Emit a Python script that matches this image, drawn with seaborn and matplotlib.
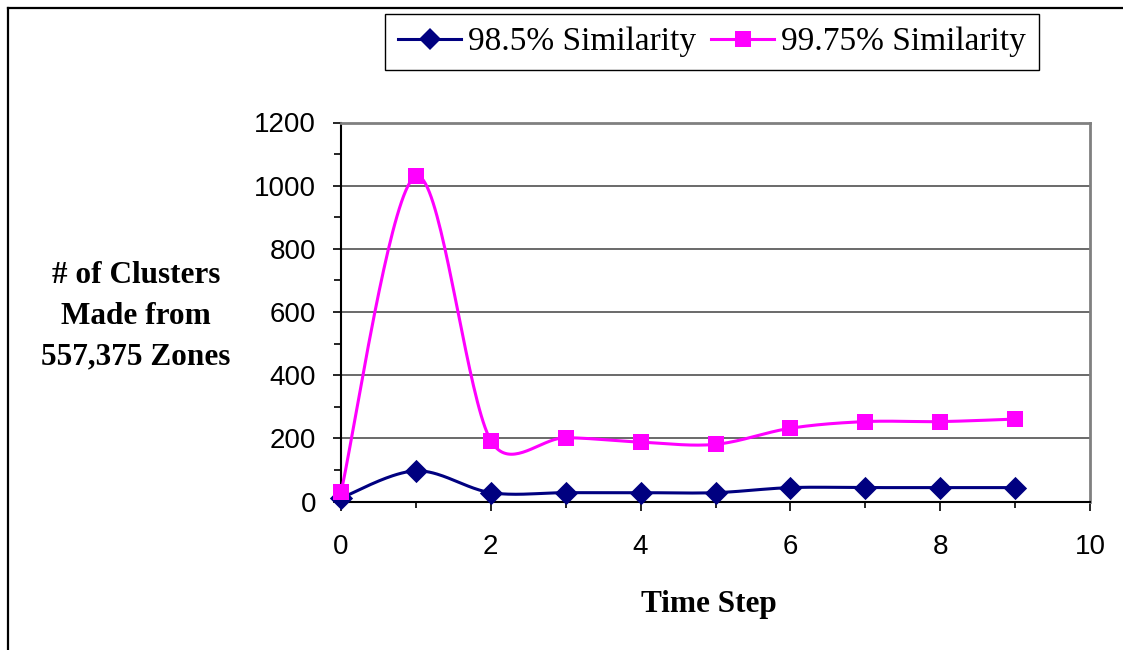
import numpy as np
import pandas as pd
import matplotlib
matplotlib.use("Agg")
import matplotlib.pyplot as plt
from matplotlib.lines import Line2D
from matplotlib.ticker import MultipleLocator
import seaborn as sns

# ---- data ----
time_steps = [0, 1, 2, 3, 4, 5, 6, 7, 8, 9]
sim_985 = [11, 97, 28, 28, 28, 28, 44, 44, 44, 44]
sim_9975 = [30, 1030, 193, 202, 188, 181, 232, 253, 253, 261]
series_names = ["98.5% Similarity", "99.75% Similarity"]
colors = ["#000080", "#FF00FF"]
markers = ["D", "s"]
x_ticks = [0, 2, 4, 6, 8, 10]
y_ticks = [0, 200, 400, 600, 800, 1000, 1200]

W, H = 1123, 650
fig = plt.figure(figsize=(W / 100, H / 100), dpi=100)
ax_l, ax_b = 341 / W, 1 - 501.5 / H
ax_w, ax_h = 749 / W, 379 / H
ax = fig.add_axes([ax_l, ax_b, ax_w, ax_h])

sx = ax_w * W / 10.0      # px per x unit
sy = ax_h * H / 1200.0    # px per y unit


def smooth_curve(xs, ys, n=40):
    """Excel-like smoothed line (Bezier through the data points)."""
    P = np.column_stack([xs, ys]).astype(float)
    S = np.array([sx, sy])
    m = len(P)
    out = [P[0]]
    for i in range(m - 1):
        p0 = P[i - 1] if i > 0 else P[i]
        p1, p2 = P[i], P[i + 1]
        p3 = P[i + 2] if i + 2 < m else P[i + 1]
        d02 = np.linalg.norm((p2 - p0) * S)
        d12 = np.linalg.norm((p2 - p1) * S)
        d13 = np.linalg.norm((p3 - p1) * S)
        f = 1 / 6 if d02 == 0 else min(1 / 6, 0.5 * d12 / d02)
        g = 1 / 6 if d13 == 0 else min(1 / 6, 0.5 * d12 / d13)
        c1 = p1 + f * (p2 - p0)
        c2 = p2 - g * (p3 - p1)
        t = np.linspace(0, 1, n)[1:, None]
        B = ((1 - t) ** 3) * p1 + 3 * ((1 - t) ** 2) * t * c1 + 3 * (1 - t) * t ** 2 * c2 + t ** 3 * p2
        out.extend(B)
    return np.array(out)


for vals, name, col, mk, ms in zip([sim_985, sim_9975], series_names, colors, markers, [140, 125]):
    curve = smooth_curve(time_steps, vals)
    cdf = pd.DataFrame({"x": curve[:, 0], "y": curve[:, 1]})
    sns.lineplot(data=cdf, x="x", y="y", sort=False, color=col, linewidth=2.2, ax=ax,
                 estimator=None, zorder=3)
    pdf = pd.DataFrame({"x": time_steps, "y": vals})
    sns.scatterplot(data=pdf, x="x", y="y", marker=mk, s=ms, color=col, edgecolor=col,
                    linewidth=0, ax=ax, zorder=4, clip_on=False)

ax.set_xlim(0, 10)
ax.set_ylim(0, 1200)
ax.set_xticks(x_ticks)
ax.set_yticks(y_ticks)
ax.xaxis.set_minor_locator(MultipleLocator(1))
ax.yaxis.set_minor_locator(MultipleLocator(100))
ax.set_xlabel("")
ax.set_ylabel("")

tick_font = "Liberation Sans"
for lab in ax.get_xticklabels() + ax.get_yticklabels():
    lab.set_fontfamily(tick_font)
    lab.set_fontsize(20)
ax.tick_params(axis="y", which="major", direction="out", length=6, width=1.2, pad=12, colors="black")
ax.tick_params(axis="y", which="minor", direction="out", length=5, width=1.2)
ax.tick_params(axis="x", which="major", direction="out", length=6.5, width=1.2, pad=17)
ax.tick_params(axis="x", which="minor", direction="out", length=4.5, width=1.2)

ax.grid(axis="y", which="major", color="#505050", linewidth=1.2)
ax.grid(axis="x", visible=False)
ax.set_axisbelow(True)
for side in ["left", "bottom"]:
    ax.spines[side].set_color("black")
    ax.spines[side].set_linewidth(1.5)
for side in ["top", "right"]:
    ax.spines[side].set_color("#808080")
    ax.spines[side].set_linewidth(2.0)

# axis titles
label_font = "Liberation Serif"
for txt, base in zip(["# of Clusters", "Made from", "557,375 Zones"], [283, 323.5, 364.5]):
    fig.text(136 / W, 1 - base / H, txt, ha="center", va="baseline",
             fontfamily=label_font, fontweight="bold", fontsize=22.5)
fig.text(709 / W, 1 - 612 / H, "Time Step", ha="center", va="baseline",
         fontfamily=label_font, fontweight="bold", fontsize=22.5)

# legend
handles = [Line2D([0], [0], color=c, marker=m, markersize=ms, linewidth=2.2,
                  markeredgewidth=0, markerfacecolor=c)
           for c, m, ms in zip(colors, markers, [11, 11])]
leg = ax.legend(handles, series_names, loc="center", bbox_to_anchor=(712 / W, 1 - 42 / H),
                bbox_transform=fig.transFigure, ncol=2, frameon=True, fancybox=False,
                shadow=False, edgecolor="black", framealpha=1,
                prop={"family": label_font, "size": 24},
                handlelength=1.9, handletextpad=0.2, columnspacing=0.45,
                borderpad=0.38, borderaxespad=0)
leg.get_frame().set_linewidth(1.0)

# outer frame (left and top edges visible)
fig.add_artist(Line2D([7.5 / W, 7.5 / W], [0, 1 - 7.5 / H], transform=fig.transFigure,
                      color="black", linewidth=1.6))
fig.add_artist(Line2D([7.5 / W, 1], [1 - 7.5 / H, 1 - 7.5 / H], transform=fig.transFigure,
                      color="black", linewidth=1.6))

fig.savefig("out.png", dpi=100, facecolor="white")
